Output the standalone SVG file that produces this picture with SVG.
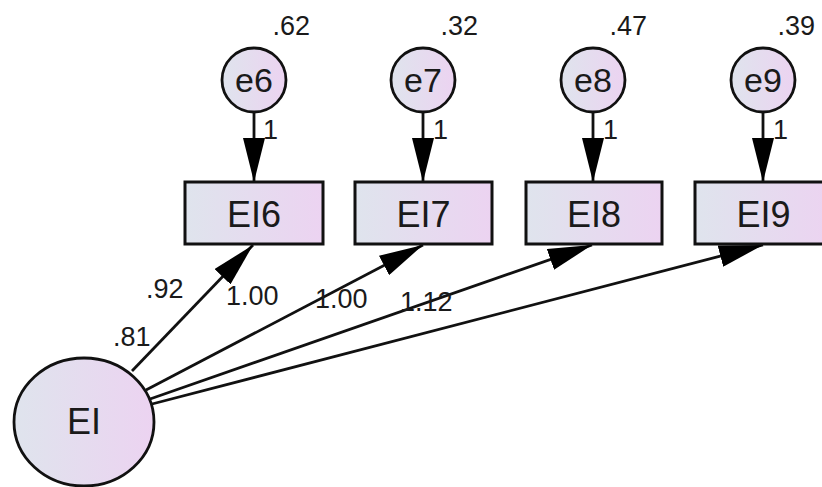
<svg xmlns="http://www.w3.org/2000/svg" width="822" height="487" viewBox="0 0 822 487">
  <defs>
    <linearGradient id="fill" x1="0" y1="0" x2="1" y2="0">
      <stop offset="0" stop-color="#dfe4ed"/>
      <stop offset="1" stop-color="#ecd3f1"/>
    </linearGradient>
    <marker id="arrow" viewBox="0 0 44 22" markerWidth="44" markerHeight="22" refX="44" refY="11" orient="auto" markerUnits="userSpaceOnUse">
      <path d="M0,0 L44,11 L0,22 z" fill="#000"/>
    </marker>
    <style>
      .box { fill: url(#fill); stroke: #111; stroke-width: 3; }
      .circ { fill: url(#fill); stroke: #111; stroke-width: 2.8; }
      .edge { stroke: #111; stroke-width: 2.8; fill: none; marker-end: url(#arrow); }
      .node { font-family: "Liberation Sans", Arial, sans-serif; font-size: 36px; fill: #1a1a1a; text-anchor: middle; }
      .elab { font-family: "Liberation Sans", Arial, sans-serif; font-size: 34px; fill: #1a1a1a; text-anchor: middle; }
      .lab { font-family: "Liberation Sans", Arial, sans-serif; font-size: 27px; fill: #1a1a1a; }
      .var { font-family: "Liberation Sans", Arial, sans-serif; font-size: 27px; fill: #1a1a1a; text-anchor: end; }
    </style>
  </defs>
  <rect width="822" height="487" fill="#fff"/>

  <g id="connectors">
    <line class="edge" x1="254" y1="112" x2="254" y2="182"/>
    <line class="edge" x1="423" y1="112" x2="423" y2="182"/>
    <line class="edge" x1="593" y1="112" x2="593" y2="182"/>
    <line class="edge" x1="763" y1="112" x2="763" y2="182"/>
    <line class="edge" x1="132" y1="371" x2="253" y2="245"/>
    <line class="edge" x1="146" y1="390" x2="423" y2="245"/>
    <line class="edge" x1="150" y1="399" x2="592" y2="245"/>
    <line class="edge" x1="152" y1="404" x2="763" y2="245"/>
    <text class="lab" x="263" y="139">1</text>
    <text class="lab" x="433" y="139">1</text>
    <text class="lab" x="603" y="139">1</text>
    <text class="lab" x="773" y="139">1</text>
    <text class="lab" x="146" y="298">.92</text>
    <text class="lab" x="113" y="346">.81</text>
    <text class="lab" x="226" y="305">1.00</text>
    <text class="lab" x="315" y="308">1.00</text>
    <text class="lab" x="400" y="311">1.12</text>
  </g>

  <g id="e6">
    <circle class="circ" cx="254" cy="80" r="32"/>
    <text class="elab" x="254" y="92">e6</text>
    <text class="var" x="310" y="35">.62</text>
  </g>
  <g id="e7">
    <circle class="circ" cx="423" cy="80" r="32"/>
    <text class="elab" x="423" y="92">e7</text>
    <text class="var" x="478" y="35">.32</text>
  </g>
  <g id="e8">
    <circle class="circ" cx="593" cy="80" r="32"/>
    <text class="elab" x="593" y="92">e8</text>
    <text class="var" x="647" y="35">.47</text>
  </g>
  <g id="e9">
    <circle class="circ" cx="763" cy="80" r="32"/>
    <text class="elab" x="763" y="92">e9</text>
    <text class="var" x="815" y="35">.39</text>
  </g>

  <g id="EI6">
    <rect class="box" x="185" y="182" width="138" height="62"/>
    <text class="node" x="254" y="227">EI6</text>
  </g>
  <g id="EI7">
    <rect class="box" x="355" y="182" width="137" height="62"/>
    <text class="node" x="423.5" y="227">EI7</text>
  </g>
  <g id="EI8">
    <rect class="box" x="526" y="182" width="136" height="62"/>
    <text class="node" x="594" y="227">EI8</text>
  </g>
  <g id="EI9">
    <rect class="box" x="695" y="182" width="137" height="62"/>
    <text class="node" x="763.5" y="227">EI9</text>
  </g>

  <g id="EI">
    <ellipse class="circ" cx="84" cy="422" rx="70" ry="64"/>
    <text class="node" x="84" y="434">EI</text>
  </g>
</svg>
